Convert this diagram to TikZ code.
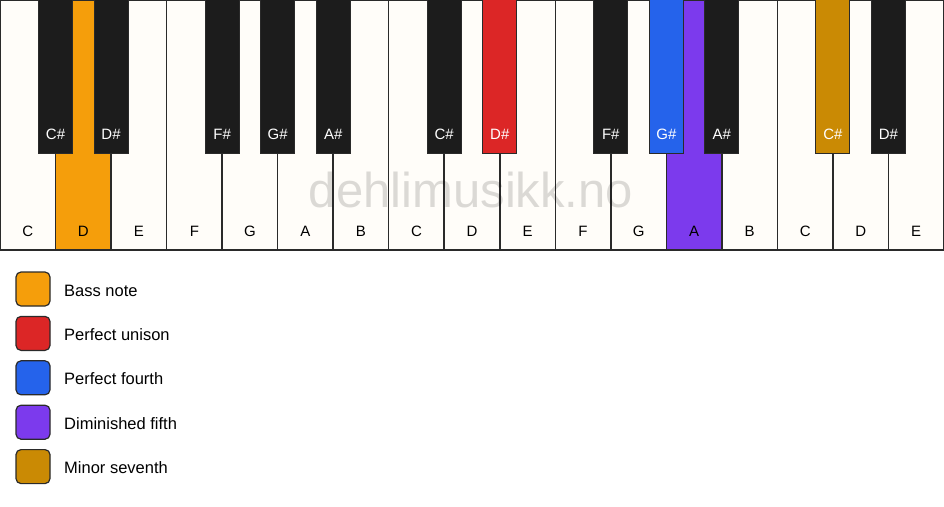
\documentclass[tikz,border=0pt]{standalone}
\usepackage{fontspec}
\setmainfont{Liberation Sans}

\definecolor{keywhite}{HTML}{FFFDF9}
\definecolor{keyblack}{HTML}{1C1C1C}
\definecolor{keyline}{HTML}{2A2A2A}
\definecolor{bass}{HTML}{F59E0B}
\definecolor{unison}{HTML}{DC2626}
\definecolor{fourth}{HTML}{2563EB}
\definecolor{dimfifth}{HTML}{7C3AED}
\definecolor{minseventh}{HTML}{CA8A04}

\begin{document}
\begin{tikzpicture}[x=1pt, y=-1pt,
    whitekey/.style={draw=keyline, line width=1.5pt},
    blackkey/.style={draw=keyline, line width=1pt},
    keylabel/.style={anchor=base, inner sep=0pt, font=\fontsize{15}{18}\selectfont},
    legendbox/.style={draw=keyline, line width=1.2pt, rounded corners=5pt},
    legendtext/.style={anchor=base west, inner sep=0pt, font=\fontsize{16.5}{19}\selectfont}]

  % Marco
  \useasboundingbox (0,0) rectangle (944,506);
  \pgfmathsetmacro{\w}{944/17}

  % Teclas blancas
  \foreach \n/\c [count=\i from 0] in {C/keywhite, D/bass, E/keywhite, F/keywhite,
      G/keywhite, A/keywhite, B/keywhite, C/keywhite, D/keywhite, E/keywhite,
      F/keywhite, G/keywhite, A/dimfifth, B/keywhite, C/keywhite, D/keywhite, E/keywhite} {
    \draw[whitekey, fill=\c] ({\i*\w},0) rectangle ({(\i+1)*\w},250);
    \node[keylabel] (w\i) at ({(\i+0.5)*\w},236) {\n};
  }

  % Marca de agua
  \node[text=black, text opacity=0.14, inner sep=0pt, anchor=base,
        font=\fontsize{49}{54}\selectfont] (watermark) at (471,207) {dehlimusikk.no};

  % Teclas negras
  \foreach \b/\n/\c in {1/C\#/keyblack, 2/D\#/keyblack, 4/F\#/keyblack,
      5/G\#/keyblack, 6/A\#/keyblack, 8/C\#/keyblack, 9/D\#/unison,
      11/F\#/keyblack, 12/G\#/fourth, 13/A\#/keyblack, 15/C\#/minseventh,
      16/D\#/keyblack} {
    \draw[blackkey, fill=\c] ({\b*\w-17},-1) rectangle ({\b*\w+17},153);
    \node[keylabel, text=white] (b\b) at ({\b*\w},139) {\n};
  }

  % Leyenda
  \foreach \c/\t [count=\i from 0] in {bass/Bass note, unison/Perfect unison,
      fourth/Perfect fourth, dimfifth/Diminished fifth, minseventh/Minor seventh} {
    \draw[legendbox, fill=\c] (16,{272+\i*44.4}) rectangle (50,{306+\i*44.4});
    \node[legendtext] (l\i) at (64,{296+\i*44.4}) {\t};
  }
\end{tikzpicture}
\end{document}
